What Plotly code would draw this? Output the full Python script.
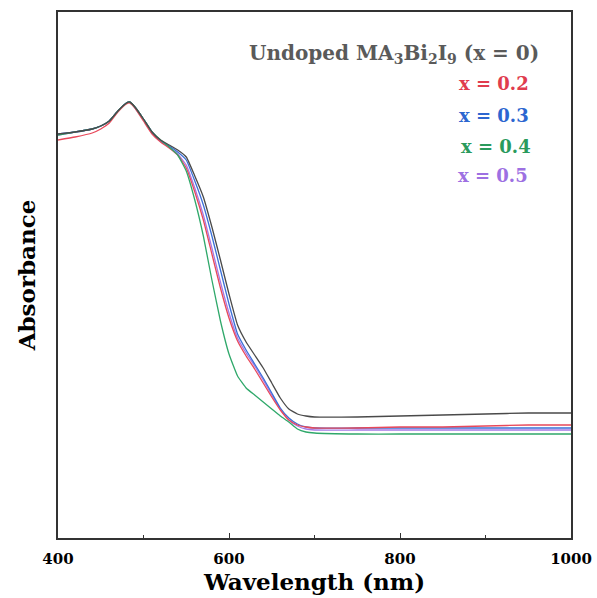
import plotly.graph_objects as go

wavelength = [400, 420, 440, 450, 460, 470, 480, 484, 490, 500, 510, 520, 530, 540, 550, 560, 570,
              580, 590, 600, 610, 620, 630, 640, 650, 660, 670, 680, 690, 700, 750, 800, 850,
              900, 950, 1000]

abs_x0 = [4.04, 4.06, 4.09, 4.12, 4.17, 4.27, 4.35, 4.36, 4.31, 4.19, 4.06, 3.98, 3.93, 3.88, 3.81, 3.62, 3.41,
          3.11, 2.78, 2.44, 2.13, 1.96, 1.83, 1.70, 1.55, 1.40, 1.29, 1.24, 1.22, 1.21, 1.21, 1.22, 1.23,
          1.24, 1.25, 1.25]
abs_x02 = [3.98, 4.01, 4.05, 4.09, 4.15, 4.26, 4.34, 4.35, 4.30, 4.17, 4.04, 3.96, 3.90, 3.83, 3.70, 3.46, 3.18,
           2.84, 2.50, 2.20, 1.97, 1.82, 1.69, 1.55, 1.41, 1.28, 1.18, 1.13, 1.11, 1.10, 1.10, 1.11, 1.11,
           1.12, 1.13, 1.13]
abs_x03 = [4.04, 4.06, 4.09, 4.12, 4.17, 4.27, 4.35, 4.36, 4.31, 4.19, 4.06, 3.97, 3.92, 3.86, 3.78, 3.57, 3.33,
           3.02, 2.68, 2.34, 2.04, 1.88, 1.74, 1.60, 1.45, 1.30, 1.20, 1.14, 1.11, 1.10, 1.10, 1.10, 1.10,
           1.10, 1.10, 1.10]
abs_x04 = [4.03, 4.06, 4.09, 4.12, 4.17, 4.27, 4.35, 4.36, 4.31, 4.19, 4.06, 3.98, 3.91, 3.83, 3.67, 3.38, 3.02,
           2.58, 2.17, 1.84, 1.62, 1.50, 1.43, 1.36, 1.29, 1.22, 1.16, 1.09, 1.06, 1.05, 1.04, 1.04, 1.04,
           1.04, 1.04, 1.04]
abs_x05 = [4.03, 4.06, 4.09, 4.12, 4.17, 4.27, 4.35, 4.36, 4.30, 4.18, 4.05, 3.97, 3.91, 3.84, 3.73, 3.50, 3.23,
           2.90, 2.56, 2.25, 2.00, 1.85, 1.72, 1.58, 1.43, 1.29, 1.18, 1.12, 1.09, 1.08, 1.08, 1.08, 1.08,
           1.08, 1.08, 1.08]

series_names = ["Undoped MA<sub>3</sub>Bi<sub>2</sub>I<sub>9</sub> (x = 0)", "x = 0.2", "x = 0.3", "x = 0.4", "x = 0.5"]
series_values = [abs_x0, abs_x02, abs_x03, abs_x04, abs_x05]
line_colors = ["#4a4a4a", "#e8485a", "#3a6fd8", "#2fa86a", "#a57ae6"]
text_colors = ["#5a5a5a", "#e03c4e", "#2c66d0", "#2a9a5c", "#9d70e2"]

FONT = "DejaVu Serif"

fig = go.Figure()
draw_order = [4, 2, 1, 3, 0]
for i in draw_order:
    fig.add_trace(go.Scatter(x=wavelength, y=series_values[i], mode="lines",
                             line=dict(color=line_colors[i], width=1.3, shape="spline", smoothing=0.4),
                             name=series_names[i], showlegend=False))

label_y = [0.920, 0.864, 0.803, 0.744, 0.689]
label_x = [0.942, 0.922, 0.922, 0.926, 0.920]
label_size = [20, 18, 18, 18, 18]
for i in range(5):
    fig.add_annotation(x=label_x[i], y=label_y[i], xref="paper", yref="paper",
                       text="<b>" + series_names[i] + "</b>", showarrow=False,
                       xanchor="right", yanchor="middle",
                       font=dict(family=FONT, size=label_size[i], color=text_colors[i]))

fig.update_layout(
    width=597, height=598,
    margin=dict(l=58, r=26, t=12, b=60, autoexpand=False),
    paper_bgcolor="white", plot_bgcolor="white",
    font=dict(family=FONT, color="black"),
)
fig.update_xaxes(range=[400, 1000], tickvals=[400, 600, 800, 1000],
                 ticktext=["<b>400</b>", "<b>600</b>", "<b>800</b>", "<b>1000</b>"],
                 ticks="inside", ticklen=5, tickwidth=1.2, tickcolor="#333",
                 minor=dict(tickvals=[500, 700, 900], ticks="inside", ticklen=3, tickcolor="#333"),
                 showline=True, linecolor="#333", linewidth=1.5, mirror=True,
                 showgrid=False, zeroline=False, automargin=False,
                 ticklabelstandoff=6,
                 tickfont=dict(family=FONT, size=15, color="black"),
                 title=dict(text="<b>Wavelength (nm)</b>", font=dict(family=FONT, size=23, color="black"),
                            standoff=5))
fig.update_yaxes(range=[0, 5.26], showticklabels=False, ticks="",
                 showline=True, linecolor="#333", linewidth=1.5, mirror=True,
                 showgrid=False, zeroline=False, automargin=False,
                 title=dict(text="<b>Absorbance</b>", font=dict(family=FONT, size=23, color="black"),
                            standoff=14))

fig.write_html("out.html")
